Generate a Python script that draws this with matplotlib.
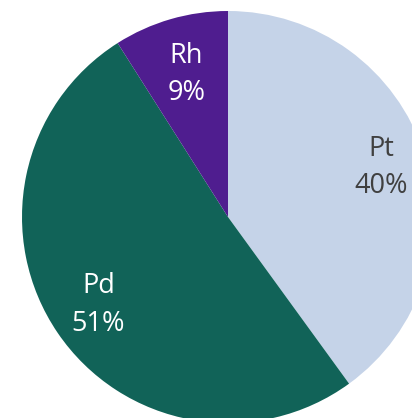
import numpy as np
import matplotlib.pyplot as plt

metals = ["Pt", "Pd", "Rh"]
shares = [40, 51, 9]
colors = ["#C5D3E8", "#116358", "#4F1D8F"]
text_colors = ["#404040", "white", "white"]
label_r = [0.78, 0.76, 0.72]

W, H = 412, 418
fig = plt.figure(figsize=(W / 100, H / 100), dpi=100)
# pie centre at (228, 217) px from top-left, radius 206 px
cx, cy, r = 228, 217, 206
ax = fig.add_axes([(cx - r) / W, (H - cy - r) / H, 2 * r / W, 2 * r / H])

wedges, _ = ax.pie(shares, colors=colors, startangle=90, counterclock=False,
                   radius=1, center=(0, 0), frame=False,
                   wedgeprops=dict(linewidth=0))
ax.set_xlim(-1, 1)
ax.set_ylim(-1, 1)
ax.axis("off")

for w, name, val, tc, rr in zip(wedges, metals, shares, text_colors, label_r):
    mid = np.deg2rad((w.theta1 + w.theta2) / 2)
    ax.text(rr * np.cos(mid), rr * np.sin(mid), f"{name}\n{val}%",
            ha="center", va="center", color=tc, fontsize=19.5,
            family="Open Sans", linespacing=1.45)

fig.savefig("out.png", dpi=100)
